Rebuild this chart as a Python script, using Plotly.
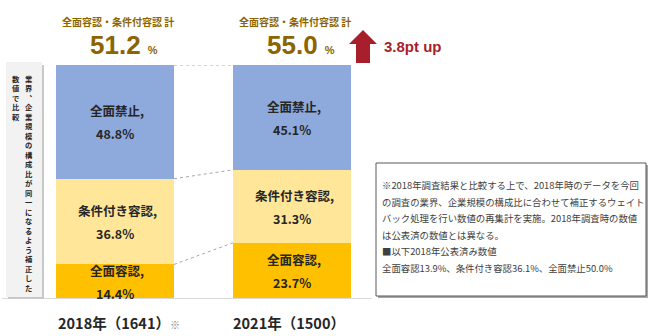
import plotly.graph_objects as go

W, H = 652, 336

# ---- data ----
years = ["2018年（1641）", "2021年（1500）"]
categories = ["全面容認", "条件付き容認", "全面禁止"]
full_ok = [14.4, 23.7]
conditional_ok = [36.8, 31.3]
full_ban = [48.8, 45.1]
combined = [51.2, 55.0]
diff_label = "3.8pt up"
side_note = "業界︑企業規模の構成比が同一になるよう補正した"
side_note2 = "数値で比較"
note_lines = [
    "※2018年調査結果と比較する上で、2018年時のデータを今回",
    "の調査の業界、企業規模の構成比に合わせて補正するウェイト",
    "バック処理を行い数値の再集計を実施。2018年調査時の数値",
    "は公表済の数値とは異なる。",
    "■以下2018年公表済み数値",
    "全面容認13.9%、条件付き容認36.1%、全面禁止50.0%",
]

series = [full_ok, conditional_ok, full_ban]
colors = ["#FFC000", "#FFE699", "#8EA9DB"]
BAR_W = 0.667
JP = "Noto Sans CJK JP"
BROWN = "#8C6400"
xs = [0, 1]


def X(px):
    return px / W


def Y(py):
    return 1 - py / H


fig = go.Figure()
for name, vals, col in zip(categories, series, colors):
    fig.add_trace(go.Bar(
        x=xs, y=vals, name=name, width=BAR_W,
        marker=dict(color=col, line=dict(width=0)),
        hoverinfo="skip",
    ))

shapes = []
annotations = []


def note(**kw):
    kw.setdefault("showarrow", False)
    kw.setdefault("xanchor", "center")
    kw.setdefault("yanchor", "middle")
    annotations.append(kw)


# dotted connectors between the stacked segments
cum = [[0, 0]]
for vals in series:
    cum.append([cum[-1][i] + vals[i] for i in range(2)])
for level in cum[1:]:
    shapes.append(dict(
        type="line", xref="x", yref="y",
        x0=xs[0] + BAR_W / 2, x1=xs[1] - BAR_W / 2,
        y0=min(level[0], 100), y1=min(level[1], 100),
        line=dict(color="#A6A6A6", width=1, dash="dot"),
    ))

# segment labels
for k, (name, vals) in enumerate(zip(categories, series)):
    for i in range(2):
        mid = cum[k][i] + vals[i] / 2
        note(x=xs[i], y=mid, xref="x", yref="y", text=f"{name},",
             yshift=11, xshift=2,
             font=dict(family=JP, size=12.5, color="#262626", weight="bold"))
        note(x=xs[i], y=mid, xref="x", yref="y", text=f"{vals[i]}%",
             yshift=-12,
             font=dict(family=JP, size=12.5, color="#262626", weight="bold"))

# combined totals above bars
for i in range(2):
    note(x=xs[i], y=Y(22), xref="x", yref="paper", text="全面容認・条件付容認 計",
         xshift=3, font=dict(family=JP, size=10, color=BROWN, weight="bold"))
    note(x=xs[i], y=Y(45), xref="x", yref="paper",
         text=f"{combined[i]:.1f} <span style='font-size:11px'>%</span>",
         xshift=9, font=dict(family="Arial", size=26, color=BROWN, weight="bold"))

# category labels below bars
for i, lab in enumerate(years):
    txt = lab + ("<span style='font-size:10px;color:#7F7F7F'>※</span>" if i == 0 else "")
    note(x=xs[i], y=Y(322), xref="x", yref="paper", text=txt,
         xshift=4 if i == 0 else -3,
         font=dict(family=JP, size=14.5, color="#262626", weight="bold"))

# increase arrow
arrow_path = (f"M {X(349)},{Y(44)} L {X(363)},{Y(30)} L {X(377)},{Y(44)} "
              f"L {X(370)},{Y(44)} L {X(370)},{Y(63)} L {X(356)},{Y(63)} "
              f"L {X(356)},{Y(44)} Z")
shapes.append(dict(type="path", xref="paper", yref="paper", path=arrow_path,
                   fillcolor="#A61F2B", line=dict(width=0)))
note(x=X(382), y=Y(47), xref="paper", yref="paper", text=diff_label,
     xanchor="left",
     font=dict(family="Arial", size=15, color="#A61F2B", weight="bold"))

# baseline
shapes.append(dict(type="line", xref="paper", yref="paper",
                   x0=X(2), x1=X(372), y0=Y(298.5), y1=Y(298.5),
                   line=dict(color="#D9D9D9", width=1)))

# vertical side note box
shapes.append(dict(type="rect", xref="paper", yref="paper",
                   x0=X(8), x1=X(44), y0=Y(65), y1=Y(299),
                   fillcolor="#C8C8C8", line=dict(width=0)))
shapes.append(dict(type="rect", xref="paper", yref="paper",
                   x0=X(6), x1=X(42), y0=Y(62), y1=Y(297),
                   fillcolor="#F2F2F2", line=dict(width=0)))
note(x=X(29), y=Y(72), xref="paper", yref="paper", yanchor="top",
     text="<br>".join(side_note),
     font=dict(family=JP, size=7.3, color="#262626", weight="bold"))
note(x=X(16), y=Y(72), xref="paper", yref="paper", yanchor="top",
     text="<br>".join(side_note2),
     font=dict(family=JP, size=7.3, color="#262626", weight="bold"))

# explanatory note box
shapes.append(dict(type="rect", xref="paper", yref="paper",
                   x0=X(378), x1=X(648), y0=Y(165), y1=Y(298),
                   fillcolor="#A6A6A6", line=dict(width=0)))
shapes.append(dict(type="rect", xref="paper", yref="paper",
                   x0=X(376), x1=X(646), y0=Y(163), y1=Y(296),
                   fillcolor="white", line=dict(color="#595959", width=1)))
for j, line in enumerate(note_lines):
    note(x=X(380), y=Y(185 + j * 16.5), xref="paper", yref="paper",
         text=line, xanchor="left",
         font=dict(family=JP, size=9.4, color="#404040"))

fig.update_layout(
    width=W, height=H,
    margin=dict(l=0, r=0, t=0, b=0),
    paper_bgcolor="white", plot_bgcolor="white",
    barmode="stack", showlegend=False,
    xaxis=dict(range=[-0.5, 1.5], domain=[26.5 / W, 380.5 / W],
               visible=False, fixedrange=True),
    yaxis=dict(range=[0, 100], domain=[(H - 298) / H, (H - 65) / H],
               visible=False, fixedrange=True),
    shapes=shapes, annotations=annotations,
)

fig.write_html("out.html")
